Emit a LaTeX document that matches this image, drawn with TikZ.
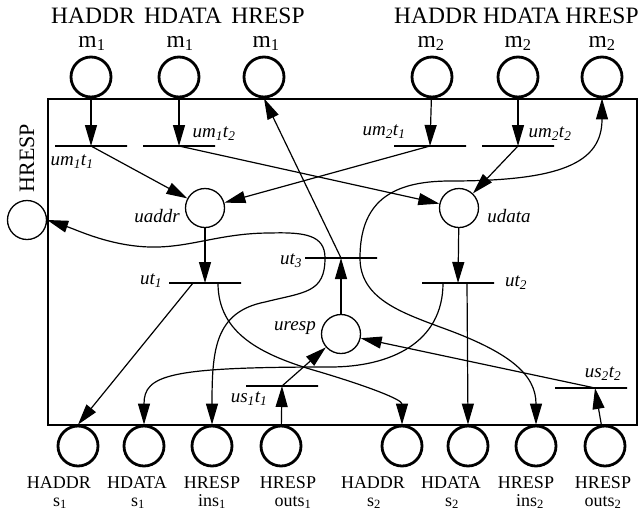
\documentclass[tikz,border=0pt]{standalone}
\usepackage{fontspec}
\setmainfont{Liberation Serif}
\usetikzlibrary{arrows.meta}

\begin{document}
\begin{tikzpicture}[x=1pt,y=-1pt,
    port/.style={circle,draw,line width=2.8pt,minimum size=40pt,inner sep=0pt},
    place/.style={circle,draw,line width=1.3pt,minimum size=39pt,inner sep=0pt},
    trans/.style={draw,line width=1.3pt,minimum width=72pt,minimum height=0pt,inner sep=0pt,outer sep=0pt},
    arc/.style={line width=1.2pt,-{Triangle[length=21pt,width=12pt]}},
    toplbl/.style={font=\fontsize{23.5}{26}\selectfont,anchor=base,inner sep=0pt},
    botlbl/.style={font=\fontsize{18}{20}\selectfont,anchor=base,inner sep=0pt},
    tlbl/.style={font=\fontsize{19}{21}\selectfont\itshape}]
    \useasboundingbox (0,0) rectangle (639,517);

    % Outer boundary
    \draw[line width=1.2pt] (48,99) rectangle (637,425);

    % Master ports (top)
    \node[port] (haddrmone) at (91,77) {};
    \node[port] (hdatamone) at (179,77) {};
    \node[port] (hrespmone) at (264,77) {};
    \node[port] (haddrmtwo) at (432,77) {};
    \node[port] (hdatamtwo) at (518,77) {};
    \node[port] (hrespmtwo) at (602,77) {};

    \node[toplbl] at (93,23) {HADDR};
    \node[toplbl] at (183,23) {HDATA};
    \node[toplbl] at (268,23) {HRESP};
    \node[toplbl] at (436,23) {HADDR};
    \node[toplbl] at (522,23) {HDATA};
    \node[toplbl] at (602,23) {HRESP};
    \node[toplbl] at (92,47) {m\textsubscript{1}};
    \node[toplbl] at (180,47) {m\textsubscript{1}};
    \node[toplbl] at (266,47) {m\textsubscript{1}};
    \node[toplbl] at (431,47) {m\textsubscript{2}};
    \node[toplbl] at (518,47) {m\textsubscript{2}};
    \node[toplbl] at (602,47) {m\textsubscript{2}};

    % Slave ports (bottom)
    \node[port] (haddrsone) at (78,446) {};
    \node[port] (hdatasone) at (144,446) {};
    \node[port] (hrespinone) at (212,446) {};
    \node[port] (hrespoutone) at (281,446) {};
    \node[port] (haddrstwo) at (402,446) {};
    \node[port] (hdatastwo) at (468,446) {};
    \node[port] (hrespintwo) at (536,446) {};
    \node[port] (hrespouttwo) at (605,446) {};

    \node[botlbl] at (59,488) {HADDR};
    \node[botlbl] at (137,488) {HDATA};
    \node[botlbl] at (212,488) {HRESP};
    \node[botlbl] at (288,488) {HRESP};
    \node[botlbl] at (373,488) {HADDR};
    \node[botlbl] at (451,488) {HDATA};
    \node[botlbl] at (526,488) {HRESP};
    \node[botlbl] at (603,488) {HRESP};
    \node[botlbl] at (60,506) {s\textsubscript{1}};
    \node[botlbl] at (138,506) {s\textsubscript{1}};
    \node[botlbl] at (212,506) {ins\textsubscript{1}};
    \node[botlbl] at (293,506) {outs\textsubscript{1}};
    \node[botlbl] at (374,506) {s\textsubscript{2}};
    \node[botlbl] at (452,506) {s\textsubscript{2}};
    \node[botlbl] at (530,506) {ins\textsubscript{2}};
    \node[botlbl] at (603,506) {outs\textsubscript{2}};

    % HRESP on the left side
    \node[place] (hresp) at (27,220) {};
    \node[rotate=90,font=\fontsize{22}{24}\selectfont] at (27,158) {HRESP};

    % Internal places
    \node[place] (uaddr) at (205,208) {};
    \node[place] (udata) at (459,208) {};
    \node[place] (uresp) at (341,334) {};
    \node[tlbl] at (157,216) {uaddr};
    \node[tlbl] at (509,216) {udata};
    \node[tlbl] at (295,328) {uresp};

    % Transitions
    \node[trans] (umoneone) at (91,146) {};
    \node[trans] (umonetwo) at (179,146) {};
    \node[trans] (umtwoone) at (430,146) {};
    \node[trans] (umtwotwo) at (518,146) {};
    \node[trans] (utone) at (205,283) {};
    \node[trans] (uttwo) at (458,283) {};
    \node[trans] (utthree) at (341,258) {};
    \node[trans] (usoneone) at (282,386) {};
    \node[trans] (ustwotwo) at (591,388) {};

    \node[tlbl] at (72,162) {um\textsubscript{1}t\textsubscript{1}};
    \node[tlbl] at (214,134) {um\textsubscript{1}t\textsubscript{2}};
    \node[tlbl] at (384,132) {um\textsubscript{2}t\textsubscript{1}};
    \node[tlbl] at (550,134) {um\textsubscript{2}t\textsubscript{2}};
    \node[tlbl] at (151,281) {ut\textsubscript{1}};
    \node[tlbl] at (516,283) {ut\textsubscript{2}};
    \node[tlbl] at (291,261) {ut\textsubscript{3}};
    \node[tlbl] at (249,399) {us\textsubscript{1}t\textsubscript{1}};
    \node[tlbl] at (603,374) {us\textsubscript{2}t\textsubscript{2}};

    % Master side
    \draw[arc] (haddrmone) -- (umoneone);
    \draw[arc] (hdatamone) -- (umonetwo);
    \draw[arc] (haddrmtwo) -- (umtwoone);
    \draw[arc] (hdatamtwo) -- (umtwotwo);
    \draw[arc] (umoneone) -- (uaddr);
    \draw[arc] (umtwoone) -- (uaddr);
    \draw[arc] (umonetwo) -- (udata);
    \draw[arc] (umtwotwo) -- (udata);
    \draw[arc] (uaddr) -- (utone);
    \draw[arc] (udata) -- (uttwo);

    % Slave side
    \draw[arc] ([xshift=-12pt]utone.center) -- (haddrsone.north);
    \draw[arc] ([xshift=13pt]utone.center) .. controls +(0,50) and +(-60,-17) .. (320,372)
        .. controls +(50,15) and +(0,-25) .. (haddrstwo.north);
    \draw[arc] ([xshift=9pt]uttwo.center) -- (hdatastwo.north);
    \draw[arc] ([xshift=-15pt]uttwo.center) .. controls +(0,60) and +(60,0) .. (330,367)
        .. controls +(-160,0) and +(0,-50) .. (hdatasone.north);

    % Response path
    \draw[arc] (hrespoutone) -- (usoneone);
    \draw[arc] (hrespouttwo) -- ([xshift=4pt]ustwotwo.center);
    \draw[arc] (usoneone) -- (uresp);
    \draw[arc] ([xshift=4pt]ustwotwo.center) -- (uresp);
    \draw[arc] (uresp) -- (utthree);
    \draw[arc] (utthree) -- (hrespmone.south);
    \draw[arc] ([xshift=19pt]utthree.center) .. controls +(0,-55) and +(-60,0) .. (450,181)
        .. controls +(110,0) and +(0,65) .. (hrespmtwo.south);
    \draw[arc] ([xshift=-16pt]utthree.center) .. controls +(0,-23) and +(35,-1) .. (270,233)
        .. controls +(-50,0) and +(40,1) .. (150,247)
        .. controls +(-40,-1) and +(30,10) .. (hresp.east);
    \draw[arc] ([xshift=-16pt]utthree.center) .. controls +(0,35) and +(40,-10) .. (265,302)
        .. controls +(-50,10) and +(0,-75) .. (hrespinone.north);
    \draw[arc] ([xshift=19pt]utthree.center) .. controls +(0,40) and +(-40,-15) .. (440,327)
        .. controls +(70,25) and +(0,-50) .. (hrespintwo.north);
\end{tikzpicture}
\end{document}
